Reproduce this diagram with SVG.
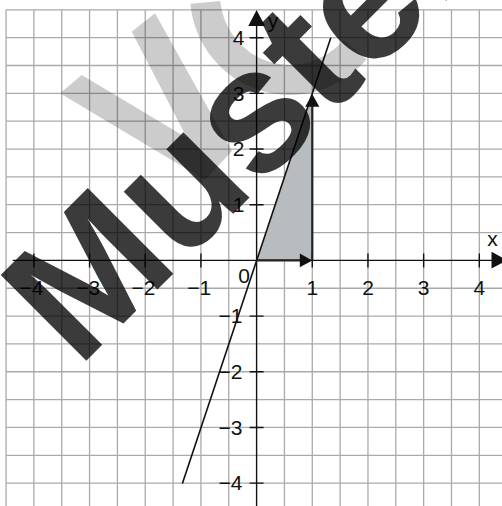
<svg xmlns="http://www.w3.org/2000/svg" width="502" height="506" viewBox="0 0 502 506">
<style>
.grid{stroke:#aaaaaa;stroke-width:1.3;fill:none}
.axis{stroke:#111;stroke-width:1.4;fill:none}
.tick{stroke:#111;stroke-width:1.4}
.lbl{font-family:"Liberation Sans",Arial,sans-serif;font-size:21px;fill:#111}
.mid{text-anchor:middle}
.end{text-anchor:end}
.head{fill:#111}
.wm-light{fill:#000;fill-opacity:0.2}
</style>
<rect width="502" height="506" fill="#fff"/>
<g id="grid">
<path class="grid" d="M6.04 9.84V506M33.88 9.84V506M61.72 9.84V506M89.56 9.84V506M117.4 9.84V506M145.24 9.84V506M173.08 9.84V506M200.92 9.84V506M228.76 9.84V506M284.44 9.84V506M312.28 9.84V506M340.12 9.84V506M367.96 9.84V506M395.8 9.84V506M423.64 9.84V506M451.48 9.84V506M479.32 9.84V506
M6.04 9.84H502M6.04 37.68H502M6.04 65.52H502M6.04 93.36H502M6.04 121.2H502M6.04 149.04H502M6.04 176.88H502M6.04 204.72H502M6.04 232.56H502M6.04 288.24H502M6.04 316.08H502M6.04 343.92H502M6.04 371.76H502M6.04 399.6H502M6.04 427.44H502M6.04 455.28H502M6.04 483.12H502"/>
</g>
<g id="triangle">
<polygon points="256.6,260.4 312.28,260.4 312.28,93.36" fill="#b9bcbf"/>
</g>
<g id="axes">
<path class="axis" d="M12.7 260.4H493M256.6 506V24"/>
<polygon class="head" points="491.5,251.8 491.5,268.6 507,260.2"/>
<polygon class="head" points="248.3,26 265,26 256.6,10"/>
<path class="tick" d="M33.88 253.4V267.4M89.56 253.4V267.4M145.24 253.4V267.4M200.92 253.4V267.4M312.28 253.4V267.4M367.96 253.4V267.4M423.64 253.4V267.4M479.32 253.4V267.4
M249.6 37.68H263.6M249.6 93.36H263.6M249.6 149.04H263.6M249.6 204.72H263.6M249.6 316.08H263.6M249.6 371.76H263.6M249.6 427.44H263.6M249.6 483.12H263.6"/>
</g>
<g id="labels">
<text class="lbl mid" x="31.5" y="294.7">−4</text>
<text class="lbl mid" x="88.3" y="294.7">−3</text>
<text class="lbl mid" x="143.5" y="294.7">−2</text>
<text class="lbl mid" x="199.2" y="294.7">−1</text>
<text class="lbl mid" x="312.3" y="294.7">1</text>
<text class="lbl mid" x="368" y="294.7">2</text>
<text class="lbl mid" x="423.6" y="294.7">3</text>
<text class="lbl mid" x="479.3" y="294.7">4</text>
<text class="lbl end" x="250" y="283.3">0</text>
<text class="lbl end" x="244.5" y="45">4</text>
<text class="lbl end" x="244.5" y="100.6">3</text>
<text class="lbl end" x="244.5" y="156.4">2</text>
<text class="lbl end" x="244.5" y="212">1</text>
<text class="lbl end" x="242.5" y="323.4">−1</text>
<text class="lbl end" x="242.5" y="379">−2</text>
<text class="lbl end" x="242.5" y="434.8">−3</text>
<text class="lbl end" x="242.5" y="490.4">−4</text>
<text class="lbl mid" x="273" y="28">y</text>
<text class="lbl mid" x="492.5" y="245.7">x</text>
</g>
<g id="function">
<line x1="182.4" y1="483.4" x2="330.8" y2="37.7" stroke="#111" stroke-width="1.6"/>
<line x1="256.6" y1="260.4" x2="301" y2="260.4" stroke="#222" stroke-width="2.2"/>
<polygon class="head" points="299.8,253.6 299.8,267.2 312.3,260.4"/>
<line x1="312.28" y1="260.4" x2="312.28" y2="106" stroke="#222" stroke-width="2.2"/>
<polygon class="head" points="305.2,106.8 319.4,106.8 312.3,94.3"/>
</g>
<g id="watermark">
<path class="wm-light" d="M60 93.3L81.7 75L187 138L131.7 31.7L155 13.3L232 151L205 180Z"/>
<path class="wm-light" d="M190.4 3.7A100 100 0 0 0 366.6 59.3L343.6 40A70 70 0 0 1 220.3 1.1Z"/>
<text transform="translate(78,369) rotate(-45)" font-family="Liberation Sans,Arial,sans-serif" font-weight="bold" font-size="176" fill="#000" fill-opacity="0.77">Muster</text>
</g>
</svg>
